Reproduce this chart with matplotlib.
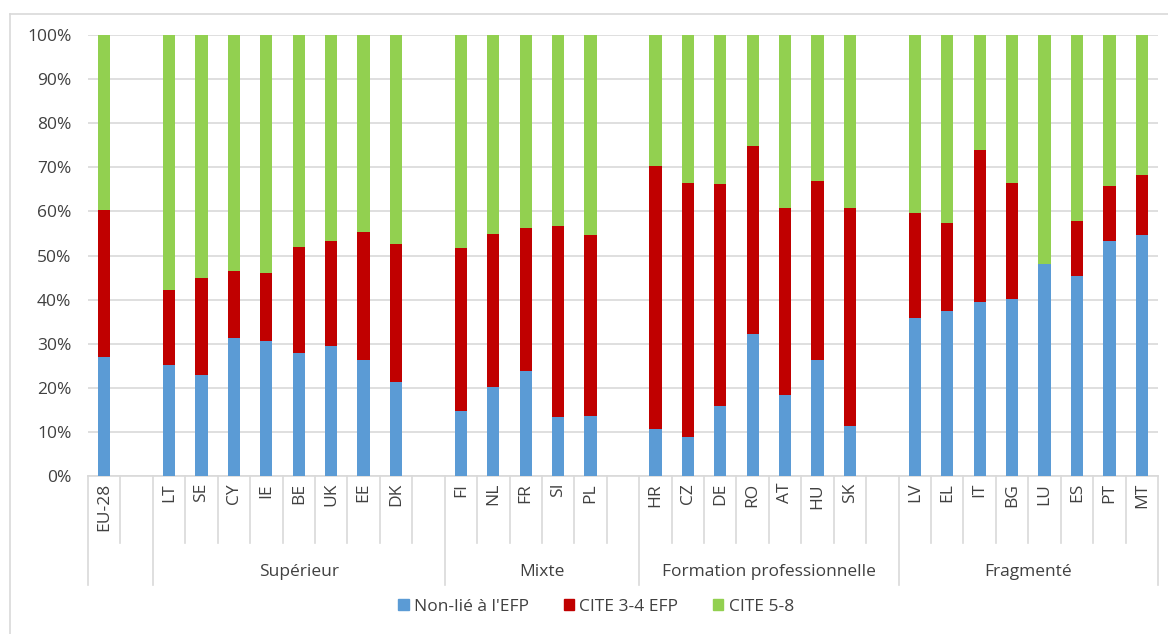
import matplotlib.pyplot as plt
from matplotlib.patches import Patch
from matplotlib.lines import Line2D
from matplotlib.ticker import FuncFormatter
import matplotlib.transforms as mtransforms

plt.rcParams['font.family'] = ['Open Sans', 'DejaVu Sans']

# pays (les cases vides séparent les groupes)
pays = ['EU-28', '', 'LT', 'SE', 'CY', 'IE', 'BE', 'UK', 'EE', 'DK', '',
        'FI', 'NL', 'FR', 'SI', 'PL', '',
        'HR', 'CZ', 'DE', 'RO', 'AT', 'HU', 'SK', '',
        'LV', 'EL', 'IT', 'BG', 'LU', 'ES', 'PT', 'MT']
non_lie = [27.0, 0, 25.2, 23.0, 31.2, 30.5, 28.0, 29.4, 26.3, 21.4, 0,
           14.8, 20.2, 23.7, 13.4, 13.6, 0,
           10.6, 8.9, 15.8, 32.3, 18.4, 26.4, 11.4, 0,
           35.8, 37.5, 39.5, 40.2, 48.1, 45.3, 53.2, 54.7]
cite34 = [33.4, 0, 17.0, 21.9, 15.2, 15.6, 23.9, 23.9, 29.0, 31.3, 0,
          36.9, 34.7, 32.6, 43.4, 41.1, 0,
          59.7, 57.5, 50.3, 42.5, 42.4, 40.5, 49.4, 0,
          23.8, 19.8, 34.4, 26.2, 0.0, 12.6, 12.6, 13.5]
cite58 = [39.6, 0, 57.8, 55.1, 53.6, 53.9, 48.1, 46.7, 44.7, 47.3, 0,
          48.3, 45.1, 43.7, 43.2, 45.3, 0,
          29.7, 33.6, 33.9, 25.2, 39.2, 33.1, 39.2, 0,
          40.4, 42.7, 26.1, 33.6, 51.9, 42.1, 34.2, 31.8]
groupes = ['', 'Supérieur', 'Mixte', 'Formation professionnelle', 'Fragmenté']
tailles = [2, 9, 6, 8, 8]

bleu = '#5B9BD5'
rouge = '#C00000'
vert = '#92D050'
gris = '#D9D9D9'
texte = '#404040'
fs = 12.5

fig = plt.figure(figsize=(11.68, 6.34), dpi=100)
ax = fig.add_axes([88/1168, 158/634, 1070/1168, 441/634])

x = list(range(len(pays)))
bas2 = [a + b for a, b in zip(non_lie, cite34)]
ax.bar(x, non_lie, width=0.38, color=bleu, zorder=3)
ax.bar(x, cite34, width=0.38, bottom=non_lie, color=rouge, zorder=3)
ax.bar(x, cite58, width=0.38, bottom=bas2, color=vert, zorder=3)

ax.set_xlim(-0.5, len(pays) - 0.5)
ax.set_ylim(0, 100)
ax.set_yticks(range(0, 101, 10))
ax.yaxis.set_major_formatter(FuncFormatter(lambda v, p: '%d%%' % v))
ax.grid(axis='y', color=gris, linewidth=1.2, zorder=0)
ax.set_axisbelow(True)
for s in ['left', 'right', 'top']:
    ax.spines[s].set_visible(False)
ax.spines['bottom'].set_color(gris)
ax.spines['bottom'].set_linewidth(1.2)
ax.tick_params(axis='y', length=0, labelsize=fs, labelcolor=texte, pad=12)
ax.set_xticks(x)
ax.set_xticklabels(pays, rotation=90, va='top')
ax.tick_params(axis='x', length=0, labelsize=fs, labelcolor=texte, pad=5)

# séparateurs sous l'axe
trans = mtransforms.blended_transform_factory(ax.transData, ax.transAxes)
limites = [-0.5]
for t in tailles:
    limites.append(limites[-1] + t)
for i in range(len(pays) + 1):
    xs = i - 0.5
    bas = -0.248 if xs in limites else -0.153
    ax.plot([xs, xs], [0, bas], color=gris, linewidth=1.2,
            transform=trans, clip_on=False)

for nom, g0, t in zip(groupes, limites[:-1], tailles):
    ax.text(g0 + t / 2, -0.218, nom, transform=trans, ha='center', va='center',
            fontsize=fs, color=texte)

poignees = [Patch(color=bleu, label="Non-lié à l'EFP"),
            Patch(color=rouge, label='CITE 3-4 EFP'),
            Patch(color=vert, label='CITE 5-8')]
fig.legend(handles=poignees, loc='center', bbox_to_anchor=(596/1168, 27/634),
           ncol=3, frameon=False, fontsize=fs, handlelength=0.6,
           handleheight=0.6, handletextpad=0.3, columnspacing=2.0,
           labelcolor=texte)

# cadre du graphique (coupé à droite et en bas)
fig.add_artist(Line2D([10/1168, 1], [1 - 14/634, 1 - 14/634],
                      transform=fig.transFigure, color=gris, linewidth=1.2))
fig.add_artist(Line2D([10/1168, 10/1168], [0, 1 - 14/634],
                      transform=fig.transFigure, color=gris, linewidth=1.2))

fig.savefig('out.png', dpi=100)
